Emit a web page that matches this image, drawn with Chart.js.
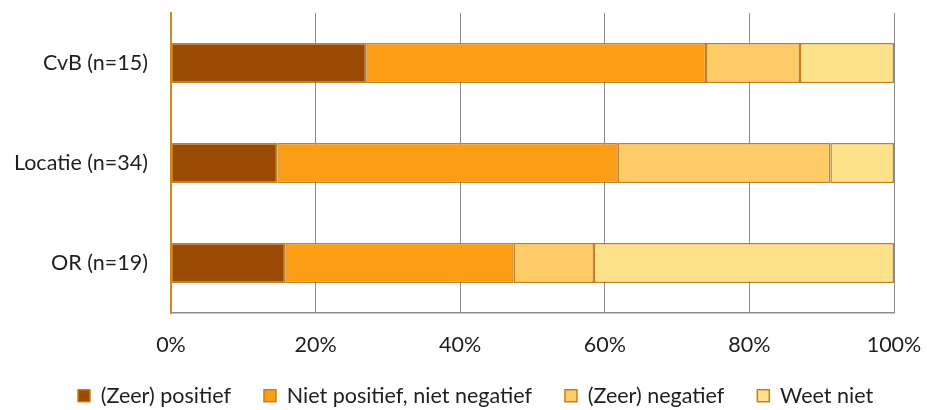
<!DOCTYPE html>
<html>
<head>
<meta charset="utf-8">
<script src="https://cdn.jsdelivr.net/npm/chart.js"></script>
<style>
  html, body { margin: 0; padding: 0; background: #ffffff; }
  #wrap { width: 927px; height: 410px; position: relative; }
</style>
</head>
<body>
<div id="wrap"><canvas id="chart"></canvas></div>
<script>
// Respons per groep, in procenten (elke rij telt op tot 100)
const categories = ['CvB (n=15)', 'Locatie (n=34)', 'OR (n=19)'];
const seriesNames = ['(Zeer) positief', 'Niet positief, niet negatief', '(Zeer) negatief', 'Weet niet'];
const positief = [27, 14.7, 15.8];
const neutraal = [47, 47.1, 31.6];
const negatief = [13, 29.4, 11.1];
const weetNiet = [13, 8.8, 41.5];
const xTicks = [0, 20, 40, 60, 80, 100];

const fills = ['#9a4a05', '#fb9d15', '#fecb66', '#fee28b'];
const edge = '#c7801a';
const FONT = { family: 'Lato, sans-serif', size: 21.5 };

// legend: one row in a fixed-height strip at the bottom, starting a bit in from the left
const LEGEND_HEIGHT = 58;
const LEGEND_INSET = 45;
const legendPlacement = {
  id: 'legendPlacement',
  beforeInit(chart) {
    const fit = chart.legend.fit;
    chart.legend.fit = function () {
      this.maxWidth = Math.max(this.maxWidth, 1200); // keep all items on one row
      fit.call(this);
      this.height = LEGEND_HEIGHT;
    };
  },
  afterLayout(chart) {
    chart.legend.left += LEGEND_INSET;
    chart.legend.right = chart.width + 100;
  }
};

const values = [positief, neutraal, negatief, weetNiet];

new Chart(document.getElementById('chart'), {
  type: 'bar',
  data: {
    labels: categories,
    datasets: values.map((data, i) => ({
      label: seriesNames[i],
      data: data,
      backgroundColor: fills[i],
      borderColor: edge,
      borderWidth: 1.5,
      borderSkipped: false,
      categoryPercentage: 1,
      barPercentage: 0.4
    }))
  },
  options: {
    indexAxis: 'y',
    responsive: true,
    maintainAspectRatio: false,
    animation: false,
    layout: { padding: { left: 0, right: 33, top: 13, bottom: 0 } },
    plugins: {
      tooltip: { enabled: false },
      legend: {
        position: 'bottom',
        align: 'start',
        labels: {
          boxWidth: 12,
          boxHeight: 12,
          padding: 33,
          color: '#1f1f1f',
          font: FONT
        }
      }
    },
    scales: {
      x: {
        stacked: true,
        min: 0,
        max: 100,
        afterBuildTicks: (s) => { s.ticks = xTicks.map(v => ({ value: v })); },
        afterFit: (s) => {
          s.height = 39;
          s.paddingLeft = 0;
          s.paddingRight = 0;
        },
        grid: { color: '#8c8c8c', lineWidth: 1, drawTicks: false },
        border: { display: true, color: '#8c8c8c', width: 1.5 },
        ticks: {
          padding: 19,
          color: '#1f1f1f',
          font: FONT,
          callback: (v) => v + '%'
        }
      },
      y: {
        stacked: true,
        afterFit: (s) => {
          s.width = 171;
          s.paddingTop = 0;
          s.paddingBottom = 0;
        },
        grid: { display: false, drawTicks: false },
        border: { display: true, color: '#d4891c', width: 2 },
        ticks: {
          padding: 23,
          color: '#1f1f1f',
          font: FONT
        }
      }
    }
  },
  plugins: [legendPlacement]
});
</script>
</body>
</html>
